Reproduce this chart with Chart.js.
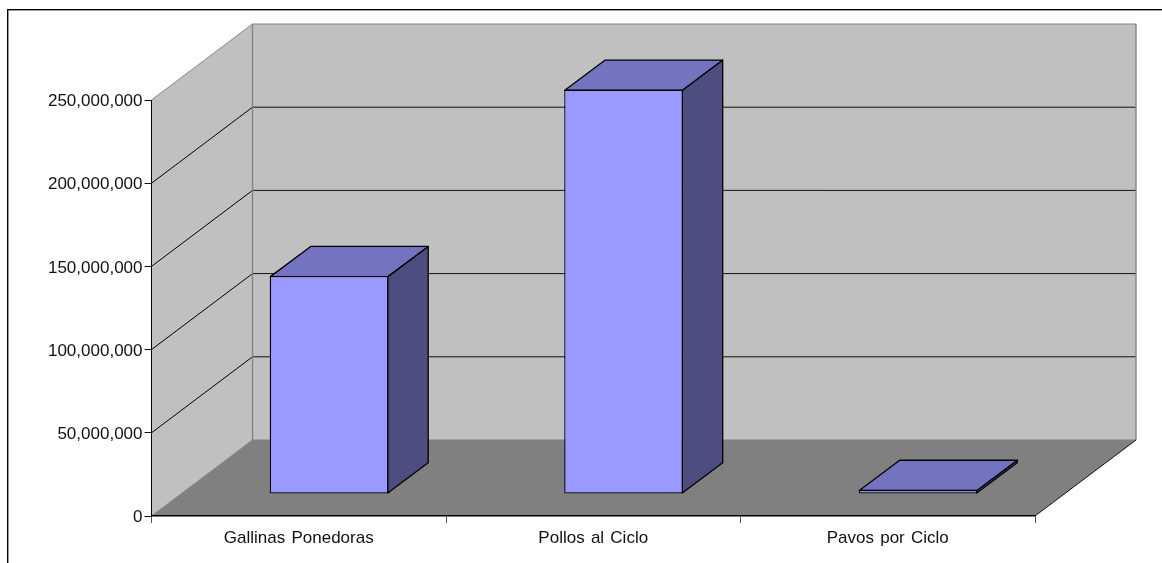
<!DOCTYPE html>
<html lang="es">
<head>
<meta charset="utf-8">
<title>Aves por ciclo</title>
<script src="https://cdn.jsdelivr.net/npm/chart.js@4"></script>
<style>
  html, body { margin: 0; padding: 0; background: #fff; overflow: hidden; }
  canvas { display: block; }
</style>
</head>
<body>
<canvas id="chart" width="1162" height="563"></canvas>
<script>
const categories = ['Gallinas Ponedoras', 'Pollos al Ciclo', 'Pavos por Ciclo'];
const birdCounts = [131000000, 243000000, 2500000];
const axisMax = 250000000;
const axisStep = 50000000;

// Oblique projection of the box: how far the back plane sits from the front plane.
const DEPTH_X = 101;
const DEPTH_Y = 76;
// Where the bars' front faces sit on the floor, and how deep the bars run.
const BAR_SHIFT_X = 30.3;
const BAR_SHIFT_Y = 22;
const BAR_DEPTH_X = 40.4;
const BAR_DEPTH_Y = 30.2;
// Value labels sit slightly below their tick marks.
const VALUE_LABEL_DROP = 1.6;

const WALL = '#c0c0c0';
const FLOOR = '#808080';
const WALL_EDGE = '#858585';
const BAR_FRONT = '#9999ff';
const BAR_TOP = '#7373bf';
const BAR_SIDE = '#4d4d80';
const FONT = { family: '"Liberation Sans", Arial, sans-serif', size: 17 };

function poly(ctx, pts, fill, stroke, width) {
  ctx.beginPath();
  pts.forEach((p, i) => (i ? ctx.lineTo(p[0], p[1]) : ctx.moveTo(p[0], p[1])));
  ctx.closePath();
  if (fill) { ctx.fillStyle = fill; ctx.fill(); }
  if (stroke) { ctx.strokeStyle = stroke; ctx.lineWidth = width || 1; ctx.stroke(); }
}

function line(ctx, x1, y1, x2, y2, color, width) {
  ctx.beginPath();
  ctx.moveTo(x1, y1);
  ctx.lineTo(x2, y2);
  ctx.strokeStyle = color;
  ctx.lineWidth = width || 1;
  ctx.stroke();
}

// Outer frame, back wall, side wall, floor and the value gridlines.
const boxPlugin = {
  id: 'box',
  beforeDraw(chart) {
    const { ctx, chartArea: a, scales: { y } } = chart;
    const L = a.left, R = a.right, T = a.top, B = a.bottom;
    const dx = DEPTH_X, dy = DEPTH_Y;
    ctx.save();

    ctx.strokeStyle = '#000';
    ctx.lineWidth = 1.4;
    ctx.strokeRect(7.7, 9.7, 1300, 700);

    poly(ctx, [[L + dx, T - dy], [R + dx, T - dy], [R + dx, B - dy], [L + dx, B - dy]], WALL);
    poly(ctx, [[L, T], [L + dx, T - dy], [L + dx, B - dy], [L, B]], WALL);
    poly(ctx, [[L, B], [L + dx, B - dy], [R + dx, B - dy], [R, B]], FLOOR);

    y.ticks.forEach(t => {
      if (t.value === 0 || t.value === axisMax) return;
      const py = y.getPixelForValue(t.value);
      line(ctx, L, py, L + dx, py - dy, '#000');
      line(ctx, L + dx, py - dy, R + dx, py - dy, '#111');
    });

    line(ctx, L, T, L + dx, T - dy, WALL_EDGE, 1);
    line(ctx, L + dx, T - dy, R + dx, T - dy, WALL_EDGE, 1);
    line(ctx, R + dx, T - dy, R + dx, B - dy, WALL_EDGE, 1.4);
    line(ctx, L + dx, T - dy, L + dx, B - dy, WALL_EDGE, 1.4);
    line(ctx, L + dx, B - dy, R + dx, B - dy, WALL_EDGE, 1);
    line(ctx, L, B, L + dx, B - dy, WALL_EDGE, 1);
    line(ctx, R, B, R + dx, B - dy, '#111', 1);
    ctx.restore();
    ctx.wordSpacing = '1.5px';
  }
};

// Pushes the bars back onto the floor and adds their top and side faces;
// Chart.js then paints the front face itself inside the shifted context.
const extrudePlugin = {
  id: 'extrude',
  beforeDatasetDraw(chart, args) {
    const { ctx } = chart;
    const dx = BAR_DEPTH_X, dy = BAR_DEPTH_Y;
    ctx.save();
    ctx.translate(BAR_SHIFT_X, -BAR_SHIFT_Y);
    ctx.lineJoin = 'round';
    args.meta.data.forEach(bar => {
      const l = bar.x - bar.width / 2, r = bar.x + bar.width / 2;
      const t = bar.y + 0.6, b = bar.base - 0.6;
      poly(ctx, [[r - 0.6, t], [r - 0.6 + dx, t - dy], [r - 0.6 + dx, b - dy], [r - 0.6, b]], BAR_SIDE, '#000', 1.3);
      poly(ctx, [[l + 0.6, t], [r - 0.6, t], [r - 0.6 + dx, t - dy], [l + 0.6 + dx, t - dy]], BAR_TOP, '#000', 1.3);
    });
  },
  afterDatasetDraw(chart) {
    chart.ctx.restore();
  },
  // The value labels are the only layer painted after the bars.
  afterDatasetsDraw(chart) {
    chart.ctx.save();
    chart.ctx.translate(0, VALUE_LABEL_DROP);
  },
  afterDraw(chart) {
    chart.ctx.restore();
  }
};

new Chart(document.getElementById('chart'), {
  type: 'bar',
  data: {
    labels: categories,
    datasets: [{
      data: birdCounts,
      backgroundColor: BAR_FRONT,
      borderColor: '#000',
      borderWidth: 1.3,
      borderSkipped: false,
      categoryPercentage: 0.403,
      barPercentage: 1,
      clip: false
    }]
  },
  plugins: [boxPlugin, extrudePlugin],
  options: {
    responsive: false,
    animation: false,
    events: [],
    layout: { padding: { top: 100, right: 127, left: 0, bottom: 0 } },
    plugins: { legend: { display: false }, tooltip: { enabled: false } },
    scales: {
      x: {
        afterFit(s) { s.height = 47; },
        grid: { drawOnChartArea: false, color: '#555', tickLength: 7, lineWidth: 1 },
        border: { color: '#000', width: 1.4 },
        ticks: { color: '#111', padding: 5, maxRotation: 0, font: FONT }
      },
      y: {
        min: 0,
        max: axisMax,
        afterFit(s) { s.width = 151.5; },
        grid: { drawOnChartArea: false, color: '#111', tickLength: 7, lineWidth: 1 },
        border: { color: '#000', width: 1 },
        ticks: {
          z: 1,
          stepSize: axisStep,
          color: '#111',
          padding: 2,
          font: FONT,
          callback: v => v.toLocaleString('en-US')
        }
      }
    }
  }
});
</script>
</body>
</html>
